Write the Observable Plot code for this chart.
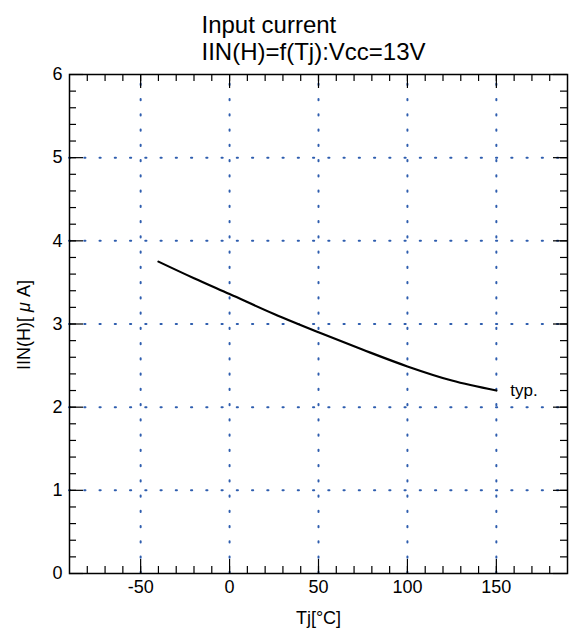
<!DOCTYPE html>
<html>
<head>
<meta charset="utf-8">
<script src="https://cdn.jsdelivr.net/npm/d3@7"></script>
<script src="https://cdn.jsdelivr.net/npm/@observablehq/plot@0.6"></script>
<style>
  html, body { margin: 0; padding: 0; background: #fff; }
</style>
</head>
<body>
<div id="chart"></div>
<script>
// Data
const tj  = [-40, -20, 0, 25, 50, 75, 100, 125, 150];
const iin = [3.75, 3.55, 3.36, 3.12, 2.90, 2.69, 2.49, 2.32, 2.20];

// Axis / tick definitions
const xDomain = [-90, 190];
const yDomain = [0, 6];
const xMajor = [-50, 0, 50, 100, 150];
const yMajor = [0, 1, 2, 3, 4, 5, 6];
const xGrid = [-50, 0, 50, 100, 150];
const yGrid = [1, 2, 3, 4, 5];
const xMinor = d3.range(-80, 190, 10);
const yMinor = d3.range(0.2, 6, 0.2);

const titleLines = ["Input current", "IIN(H)=f(Tj):Vcc=13V"];
const xLabel = "Tj[\u00B0C]";
const seriesLabel = "typ.";

const data = tj.map((t, i) => ({t, v: iin[i]}));
const blue = "#2E5DAE";
const grid = {stroke: blue, strokeWidth: 2, strokeDasharray: "1.2,14.05", strokeLinecap: "round"};

const chart = Plot.plot({
  width: 569,
  height: 637,
  marginLeft: 69,
  marginRight: 2,
  marginTop: 74,
  marginBottom: 64,
  style: {fontFamily: "'Liberation Sans', Arial, Helvetica, sans-serif", fontSize: "18px", background: "#fff", color: "#000"},
  x: {domain: xDomain, axis: null},
  y: {domain: yDomain, axis: null},
  marks: [
    // dotted grid
    Plot.ruleX(xGrid, {x: d => d, y1: yDomain[0], y2: yDomain[1], ...grid}),
    Plot.ruleY(yGrid, {y: d => d, x1: xDomain[0], x2: xDomain[1], ...grid}),
    // minor ticks (inside, all four sides)
    Plot.ruleX(xMinor, {x: d => d, insetTop: 492, stroke: "#000", strokeWidth: 1.2}),
    Plot.ruleX(xMinor, {x: d => d, insetBottom: 492, stroke: "#000", strokeWidth: 1.2}),
    Plot.ruleY(yMinor, {y: d => d, insetRight: 491, stroke: "#000", strokeWidth: 1.2}),
    Plot.ruleY(yMinor, {y: d => d, insetLeft: 491, stroke: "#000", strokeWidth: 1.2}),
    // major ticks
    Plot.ruleX(xMajor, {x: d => d, insetTop: 485, stroke: "#000", strokeWidth: 1.2}),
    Plot.ruleX(xMajor, {x: d => d, insetBottom: 485, stroke: "#000", strokeWidth: 1.2}),
    Plot.ruleY(yMajor, {y: d => d, insetRight: 484, stroke: "#000", strokeWidth: 1.2}),
    Plot.ruleY(yMajor, {y: d => d, insetLeft: 484, stroke: "#000", strokeWidth: 1.2}),
    Plot.frame({stroke: "#000", strokeWidth: 1.5}),
    // axes labels
    Plot.axisX(xMajor, {anchor: "bottom", tickSize: 0, tickPadding: 7, fontSize: 18, label: null, tickFormat: d => String(d)}),
    Plot.axisY(yMajor, {anchor: "left", tickSize: 0, tickPadding: 7, fontSize: 18, label: null, tickFormat: d => String(d)}),
    // curve
    Plot.line(data, {x: "t", y: "v", stroke: "#000", strokeWidth: 2.2, curve: "monotone-x"}),
    Plot.text([data[data.length - 1]], {x: "t", y: "v", text: () => seriesLabel, textAnchor: "start", dx: 14, fontSize: 17}),
    // titles
    Plot.text([titleLines[0]], {frameAnchor: "top-left", dx: 132, dy: -58.7, textAnchor: "start", fontSize: 24}),
    Plot.text([titleLines[1]], {frameAnchor: "top-left", dx: 132, dy: -31.7, textAnchor: "start", fontSize: 24}),
    Plot.text([xLabel], {frameAnchor: "bottom", dy: 50, fontSize: 18})
  ]
});

document.getElementById("chart").appendChild(chart);

// y-axis label with italic mu
const svg = d3.select(chart);
const yl = svg.append("text")
  .attr("transform", "translate(30,325) rotate(-90)")
  .attr("text-anchor", "middle")
  .attr("font-size", 18)
  .attr("fill", "#000");
yl.append("tspan").text("IIN(H)[ ");
yl.append("tspan").attr("font-style", "italic").text("\u03BC");
yl.append("tspan").text(" A]");
</script>
</body>
</html>
